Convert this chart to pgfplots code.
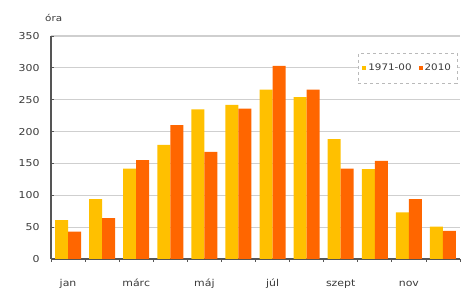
\documentclass[border=0pt]{standalone}
\usepackage{pgfplots}
\pgfplotsset{compat=1.18}
\usepackage{fontspec}
\setmainfont{DejaVu Sans}[FakeStretch=1.15]
\definecolor{cyel}{HTML}{FFC000}
\definecolor{corg}{HTML}{FF6600}
\definecolor{cgrid}{HTML}{CFCFCF}
\definecolor{caxis}{HTML}{555555}
\definecolor{ctxt}{HTML}{3A3A3A}
\begin{document}
\begin{tikzpicture}
\useasboundingbox (-51pt,-32pt) rectangle (412pt,259pt);
\begin{axis}[
  at={(0pt,0pt)}, anchor=south west,
  scale only axis, width=409pt, height=223pt,
  ybar=0pt, bar width=13pt,
  xmin=-0.5, xmax=11.5, ymin=0, ymax=350,
  ytick={0,50,...,350},
  xtick={0,2,4,6,8,10},
  xticklabels={jan,márc,máj,júl,szept,nov},
  minor xtick={-0.5,0.5,...,11.5},
  major x tick style={draw=none},
  minor x tick style={caxis, line width=0.8pt},
  minor tick length=3pt,
  y tick style={caxis, line width=0.8pt},
  major tick length=3pt,
  axis x line*=bottom, axis y line*=left,
  axis line style={caxis, line width=1.2pt, -},
  ymajorgrids, grid style={cgrid, line width=1.2pt},
  tick label style={font=\fontsize{9.5}{10}\selectfont, text=ctxt},
  /pgf/number format/assume math mode=true,
  xticklabel style={yshift=-12pt, text height=1.6ex, text depth=0.3ex},
  yticklabel shift=8pt,
  legend style={at={(0.993,0.924)}, anchor=north east, draw=gray!55, dashed,
    font=\fontsize{9}{10}\selectfont, text=ctxt, legend columns=2,
    inner xsep=4pt, inner ysep=9pt, /tikz/every even column/.append style={column sep=5pt}},
  legend image code/.code={\fill[#1, solid, draw=none] (0pt,-2pt) rectangle (4pt,2pt);},
  every axis plot/.append style={draw=none},
]
\addplot[fill=cyel] coordinates {(0,61) (1,94) (2,142) (3,179) (4,235) (5,242) (6,266) (7,254) (8,188) (9,141) (10,73) (11,51)};
\addplot[fill=corg] coordinates {(0,43) (1,64) (2,155) (3,210) (4,168) (5,236) (6,303) (7,266) (8,142) (9,154) (10,94) (11,44)};
\legend{1971-00,2010}
\end{axis}
\node[font=\fontsize{9}{10}\selectfont, text=ctxt, anchor=base west, inner sep=0pt] at (-6pt,237pt) {óra};
\end{tikzpicture}
\end{document}
